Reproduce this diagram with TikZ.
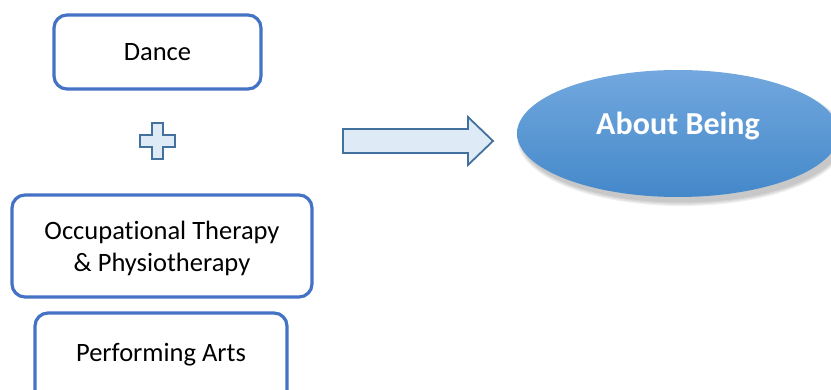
\documentclass[tikz,border=0pt]{standalone}
\usepackage{fontspec}
\setmainfont[Ligatures={NoCommon}]{Carlito}
\usetikzlibrary{shapes.geometric}
\definecolor{boxblue}{HTML}{4472C4}
\definecolor{lightfill}{HTML}{DEEBF7}
\definecolor{darkedge}{HTML}{41719C}
\definecolor{elltop}{HTML}{72A8DE}
\definecolor{ellbot}{HTML}{4488CA}
\tikzset{
  roundbox/.style={draw=boxblue, line width=3.2pt, rounded corners=13pt, fill=white,
    align=center, font=\fontsize{26.5}{32}\selectfont, inner sep=0pt},
  symshape/.style={draw=darkedge, fill=lightfill, line width=1.8pt, line join=miter},
}
\begin{document}
\begin{tikzpicture}[x=1pt,y=-1pt]
\useasboundingbox (0,0) rectangle (831,390);
\clip (0,0) rectangle (831,390);
% boxes
\node[roundbox, minimum width=207pt, minimum height=74pt] (dance) at (157.5,52) {Dance};
\node[roundbox, minimum width=300pt, minimum height=102pt] (ot) at (162,246) {};
\node[font=\fontsize{26.5}{32}\selectfont, align=center, inner sep=0pt] (ott) at (162,248) {Occupational Therapy\\\& Physiotherapy};
\node[roundbox, minimum width=252pt, minimum height=92pt] (pa) at (161,359) {};
\node[font=\fontsize{26.5}{32}\selectfont, inner sep=0pt] (pat) at (161,355) {Performing Arts};
% plus sign
\draw[symshape] (152,123) -- (163,123) -- (163,135) -- (175,135) -- (175,147) -- (163,147)
  -- (163,159) -- (152,159) -- (152,147) -- (140,147) -- (140,135) -- (152,135) -- cycle;
% block arrow
\draw[symshape] (343,129) -- (468,129) -- (468,117) -- (493,141) -- (468,165) -- (468,153)
  -- (343,153) -- cycle;
% ellipse shadow
\foreach \s/\o in {0/0.06,2/0.06,4/0.06,6/0.06} {
  \fill[black, opacity=\o] (682,139) ellipse ({161+\s*0.6} and {63.5+\s*0.6});
}
% ellipse
\node[ellipse, minimum width=322pt, minimum height=127pt, top color=elltop, bottom color=ellbot,
  draw=none, inner sep=0pt] (ab) at (678,133.5) {};
\node[font=\fontsize{32}{38}\selectfont\bfseries, text=white, inner sep=0pt] (abt) at (678,126) {About Being};
\end{tikzpicture}
\end{document}
